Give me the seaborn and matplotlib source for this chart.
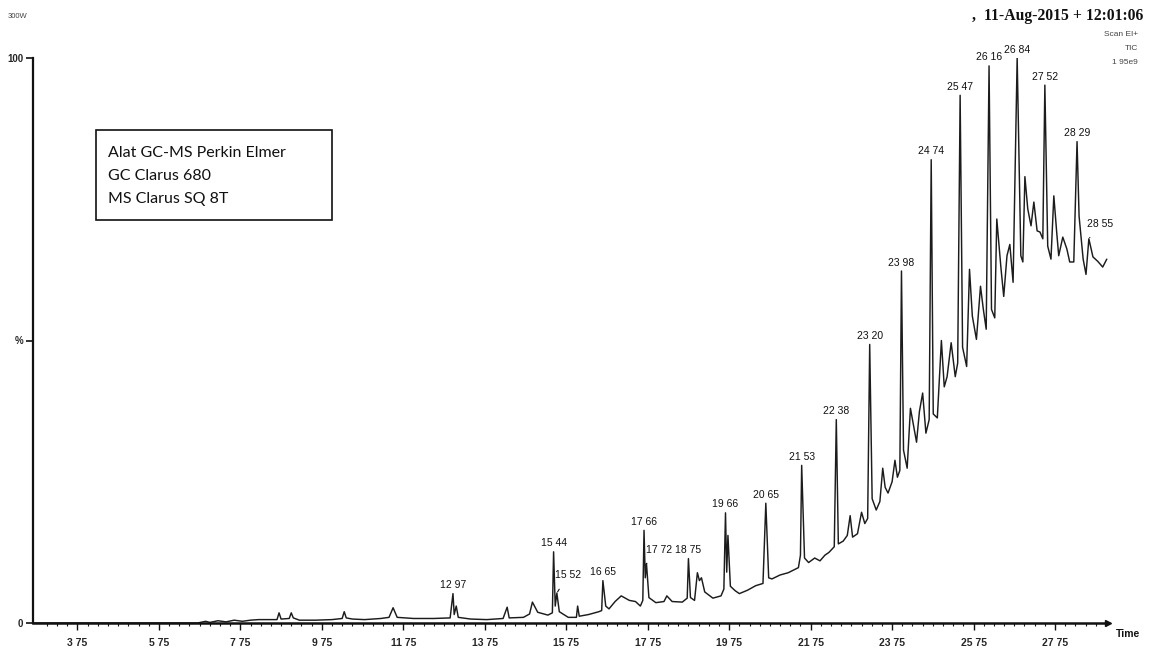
import numpy as np
import pandas as pd
import matplotlib
matplotlib.use("Agg")
import matplotlib.pyplot as plt
from matplotlib.patches import Rectangle
import seaborn as sns

# ---------------- data ----------------
trace_time = [2.70, 6.70, 6.90, 7.00, 7.20, 7.40, 7.60, 7.80, 8.00, 8.20, 8.50, 8.65, 8.70, 8.75,
              8.95, 9.00, 9.05, 9.20, 9.60, 10.00, 10.25, 10.30, 10.35, 10.50, 10.80, 11.20, 11.40,
              11.50, 11.60, 12.00, 12.50, 12.90, 12.97, 13.00, 13.05, 13.10, 13.40, 13.80, 14.20,
              14.30, 14.35, 14.70, 14.85, 14.92, 15.05, 15.30, 15.41, 15.44, 15.48, 15.52, 15.58,
              15.80, 16.00, 16.03, 16.07, 16.30, 16.55, 16.62, 16.65, 16.72, 16.80, 16.95, 17.10,
              17.30, 17.45, 17.57, 17.63, 17.66, 17.69, 17.72, 17.78, 17.95, 18.15, 18.22, 18.35,
              18.60, 18.72, 18.75, 18.80, 18.90, 18.97, 19.02, 19.07, 19.15, 19.35, 19.55, 19.62,
              19.66, 19.69, 19.72, 19.78, 19.90, 20.00, 20.20, 20.40, 20.58, 20.65, 20.72, 20.80,
              21.00, 21.20, 21.45, 21.50, 21.53, 21.56, 21.60, 21.70, 21.85, 21.98, 22.10, 22.20,
              22.33, 22.38, 22.43, 22.55, 22.65, 22.72, 22.78, 22.90, 23.00, 23.08, 23.15, 23.20,
              23.26, 23.36, 23.45, 23.52, 23.58, 23.65, 23.75, 23.82, 23.88, 23.94, 23.98, 24.03,
              24.12, 24.20, 24.25, 24.35, 24.42, 24.50, 24.58, 24.66, 24.71, 24.76, 24.86, 24.96,
              25.03, 25.10, 25.20, 25.30, 25.36, 25.42, 25.48, 25.58, 25.65, 25.72, 25.82, 25.92,
              25.99, 26.06, 26.13, 26.19, 26.27, 26.32, 26.42, 26.49, 26.57, 26.64, 26.72, 26.82,
              26.91, 26.96, 27.01, 27.08, 27.16, 27.23, 27.31, 27.38, 27.45, 27.50, 27.57, 27.65,
              27.72, 27.79, 27.84, 27.94, 28.04, 28.11, 28.21, 28.29, 28.34, 28.44, 28.51, 28.58,
              28.68, 28.80, 28.92, 29.02]
trace_pct = [0.0, 0.0, 0.3, 0.1, 0.4, 0.2, 0.5, 0.3, 0.5, 0.6, 0.6, 0.6, 1.8, 0.7,
             0.8, 1.8, 0.9, 0.5, 0.5, 0.6, 0.8, 2.0, 0.9, 0.7, 0.6, 0.8, 1.0,
             2.7, 1.0, 0.8, 0.8, 0.9, 5.2, 1.5, 3.0, 1.0, 0.7, 0.6, 0.8,
             2.8, 0.9, 1.0, 1.6, 3.7, 1.9, 1.4, 1.8, 12.6, 3.0, 5.3, 2.0,
             1.0, 1.0, 3.0, 1.2, 1.5, 2.0, 2.2, 7.5, 3.0, 2.5, 3.8, 4.8,
             4.0, 3.8, 3.0, 4.0, 16.4, 8.0, 10.5, 4.5, 3.6, 3.8, 4.8, 3.8,
             3.7, 4.4, 11.4, 4.5, 4.0, 8.9, 7.5, 8.0, 5.5, 4.4, 4.8, 6.0,
             19.5, 9.0, 15.5, 6.5, 5.7, 5.2, 5.8, 6.6, 7.0, 21.2, 8.0, 7.8,
             8.5, 8.9, 9.8, 12.0, 27.9, 21.0, 11.5, 10.7, 11.5, 11.0, 12.0, 12.5,
             13.5, 36.0, 14.0, 14.5, 15.5, 19.0, 15.2, 15.8, 19.6, 17.6, 18.5, 49.3,
             22.0, 20.0, 21.5, 27.4, 24.0, 23.0, 25.0, 28.8, 25.8, 27.0, 62.3, 30.6,
             27.4, 38.0, 36.0, 32.0, 37.4, 40.7, 33.6, 36.0, 82.0, 37.0, 36.3, 50.0,
             41.8, 43.6, 49.6, 43.6, 46.0, 93.4, 48.8, 45.4, 62.6, 54.3, 50.2, 59.6,
             55.5, 52.0, 98.6, 55.5, 54.0, 71.5, 63.0, 57.8, 65.0, 67.0, 60.3, 100.0,
             65.0, 63.9, 79.0, 73.3, 70.3, 74.5, 69.4, 69.2, 68.0, 95.2, 66.7, 64.4,
             75.6, 69.2, 65.0, 68.3, 66.2, 63.9, 63.9, 85.2, 72.0, 64.4, 61.7, 68.0,
             64.8, 64.0, 63.0, 64.4]

peak_labels = ["12 97", "15 44", "15 52", "16 65", "17 66", "17 72", "18 75", "19 66",
               "20 65", "21 53", "22 38", "23 20", "23 98", "24 74", "25 47", "26 16",
               "26 84", "27 52", "28 29", "28 55"]
peak_times = [12.97, 15.44, 15.52, 16.65, 17.66, 17.72, 18.75, 19.66, 20.65, 21.53,
              22.38, 23.20, 23.98, 24.71, 25.42, 26.13, 26.82, 27.50, 28.29, 28.58]
peak_tops = [5.2, 12.6, 5.3, 7.5, 16.4, 10.5, 11.4, 19.5, 21.2, 27.9,
             36.0, 49.3, 62.3, 82.0, 93.4, 98.6, 100.0, 95.2, 85.2, 68.0]

tick_values = [3.75, 5.75, 7.75, 9.75, 11.75, 13.75, 15.75, 17.75, 19.75, 21.75, 23.75, 25.75, 27.75]
tick_labels = ["3 75", "5 75", "7 75", "9 75", "11 75", "13 75", "15 75", "17 75",
               "19 75", "21 75", "23 75", "25 75", "27 75"]
y_tick_values = [0, 50, 100]
y_tick_labels = ["0", "%", "100"]

info_lines = ["Alat GC-MS Perkin Elmer", "GC Clarus 680", "MS Clarus SQ 8T"]
header_text = ",  11-Aug-2015 + 12:01:06"
scan_lines = ["Scan EI+", "TIC", "1 95e9"]

# ---------------- drawing ----------------
sns.set_style("ticks")
plt.rcParams['font.family'] = ['Liberation Sans', 'DejaVu Sans']

W, H = 1153, 655
fig = plt.figure(figsize=(W / 100, H / 100), dpi=100)
fig.patch.set_facecolor("white")


def fx(px):
    return px / W


def fy(py):
    return 1 - py / H


ax = fig.add_axes([fx(33), fy(623), fx(1108) - fx(33), fy(58) - fy(623)])
ax.set_facecolor("white")

df = pd.DataFrame({"t": trace_time, "pct": trace_pct})
sns.lineplot(data=df, x="t", y="pct", sort=False, estimator=None,
             color="#1c1c1c", linewidth=1.05, ax=ax)

ax.set_xlim(2.66, 29.05)
ax.set_ylim(0, 100)
ax.set_xlabel("")
ax.set_ylabel("")

ax.set_xticks(tick_values)
ax.set_xticklabels(tick_labels, fontsize=7.5, fontweight="bold")
ax.set_xticks(np.arange(3.0, 29.01, 0.25), minor=True)
ax.tick_params(axis="x", which="major", length=5, width=1.0, direction="out", pad=6, color="#111")
ax.tick_params(axis="x", which="minor", length=2.5, width=0.8, direction="out", color="#111")

ax.set_yticks(y_tick_values)
ax.set_yticklabels(y_tick_labels, fontsize=7, fontweight="bold")
ax.tick_params(axis="y", which="major", length=5, width=1.2, direction="out", pad=2, color="#111")

for s in ["top", "right"]:
    ax.spines[s].set_visible(False)
ax.spines["bottom"].set_linewidth(1.8)
ax.spines["left"].set_linewidth(1.6)
ax.spines["bottom"].set_color("#111")
ax.spines["left"].set_color("#111")

# arrow at end of time axis
ax.plot([1.0], [0.0], marker=">", markersize=4, color="#111",
        transform=ax.transAxes, clip_on=False)

# peak labels
special = {"15 52": (8, 13), "17 72": (9, 10), "28 55": (8, 11)}
for lab, t, top in zip(peak_labels, peak_times, peak_tops):
    if lab in special:
        ax.annotate(lab, xy=(t, top), xytext=special[lab], textcoords="offset points",
                    ha="center", va="center", fontsize=7.5, color="#111",
                    arrowprops=dict(arrowstyle="-", lw=0.8, color="#111",
                                    shrinkA=5, shrinkB=1))
    else:
        ax.annotate(lab, xy=(t, top), xytext=(0, 2.5), textcoords="offset points",
                    ha="center", va="bottom", fontsize=7.5, color="#111")

# info box
fig.patches.append(Rectangle((fx(96), fy(220)), fx(332) - fx(96), fy(130) - fy(220),
                             transform=fig.transFigure, fill=False, lw=1.2, edgecolor="#111"))
for i, line in enumerate(info_lines):
    fig.text(fx(108), fy(153 + 23 * i), line, fontsize=11.5, family=["Lato", "DejaVu Sans"],
             ha="left", va="center", color="#111")

# header texts
fig.text(fx(8), fy(17), "300W", fontsize=5.5, color="#444", ha="left", va="center")
fig.text(fx(1143), fy(16), header_text, fontsize=11.3, fontweight="bold",
         family=["Liberation Serif", "DejaVu Serif"], ha="right", va="center", color="#111")
for i, line in enumerate(scan_lines):
    fig.text(fx(1138), fy(34 + 14 * i), line, fontsize=6, color="#444", ha="right", va="center")
fig.text(fx(1116), fy(634), "Time", fontsize=7.5, fontweight="bold", ha="left", va="center",
         color="#111")

fig.savefig("out.png", dpi=100, facecolor="white")
